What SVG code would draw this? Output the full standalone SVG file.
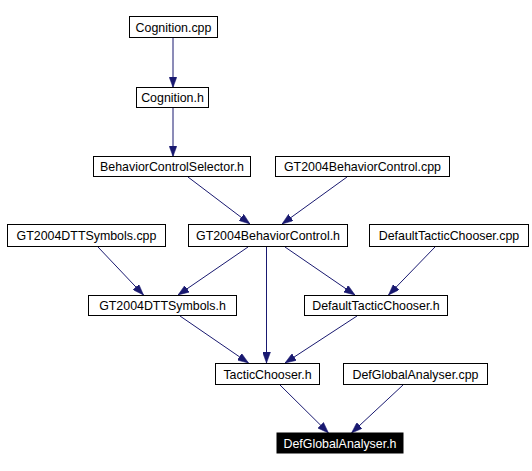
<svg xmlns="http://www.w3.org/2000/svg" width="532" height="471" viewBox="0 0 532 471">
<style>
.n rect{fill:#fff;stroke:#000;stroke-width:1}
.n text{font-family:"Liberation Sans",Arial,sans-serif;font-size:12.4px;text-anchor:middle;fill:#000}
#n_DefGlobalAnalyser_h rect{fill:#000}
#n_DefGlobalAnalyser_h text{fill:#fff}
.e line{stroke:#191970;stroke-width:1;fill:none;marker-end:url(#ah)}
</style>
<defs>
<marker id="ah" markerUnits="userSpaceOnUse" markerWidth="11" markerHeight="8" refX="11" refY="4" orient="auto">
<path d="M0,0 L11,4 L0,8 z" fill="#191970" stroke="#191970" stroke-width="0.5"/>
</marker>
</defs>
<rect width="532" height="471" fill="#fff"/>
<g id="edges" class="e">
<line x1="173" y1="38" x2="173" y2="87.5"/>
<line x1="173" y1="108" x2="173" y2="156.5"/>
<line x1="188" y1="177" x2="250" y2="224"/>
<line x1="347" y1="177" x2="282" y2="224"/>
<line x1="98" y1="247" x2="143.5" y2="295"/>
<line x1="248" y1="247" x2="178" y2="295"/>
<line x1="285" y1="247" x2="355" y2="295"/>
<line x1="435" y1="247" x2="388.5" y2="295"/>
<line x1="266.5" y1="247" x2="266.5" y2="363"/>
<line x1="180" y1="316" x2="248.5" y2="363"/>
<line x1="357" y1="316" x2="285" y2="363"/>
<line x1="280" y1="385" x2="328.5" y2="433"/>
<line x1="403" y1="385" x2="351.5" y2="433"/>
</g>
<g id="n_Cognition_cpp" class="n"><rect x="129.5" y="16.5" width="88" height="21"/><text x="173.5" y="31.5">Cognition.cpp</text></g>
<g id="n_Cognition_h" class="n"><rect x="136.5" y="87.5" width="72" height="20"/><text x="172.5" y="102">Cognition.h</text></g>
<g id="n_BehaviorControlSelector_h" class="n"><rect x="93.5" y="156.5" width="157" height="20"/><text x="172" y="171">BehaviorControlSelector.h</text></g>
<g id="n_GT2004BehaviorControl_cpp" class="n"><rect x="275.5" y="156.5" width="174" height="20"/><text x="362.5" y="171">GT2004BehaviorControl.cpp</text></g>
<g id="n_GT2004DTTSymbols_cpp" class="n"><rect x="7.5" y="224.5" width="158" height="22"/><text x="86.5" y="240">GT2004DTTSymbols.cpp</text></g>
<g id="n_GT2004BehaviorControl_h" class="n"><rect x="188.5" y="224.5" width="159" height="22"/><text x="268" y="240">GT2004BehaviorControl.h</text></g>
<g id="n_DefaultTacticChooser_cpp" class="n"><rect x="369.5" y="224.5" width="159" height="22"/><text x="449" y="240">DefaultTacticChooser.cpp</text></g>
<g id="n_GT2004DTTSymbols_h" class="n"><rect x="88.5" y="295.5" width="148" height="20"/><text x="162.5" y="310">GT2004DTTSymbols.h</text></g>
<g id="n_DefaultTacticChooser_h" class="n"><rect x="304.5" y="295.5" width="143" height="20"/><text x="376" y="310">DefaultTacticChooser.h</text></g>
<g id="n_TacticChooser_h" class="n"><rect x="215.5" y="363.5" width="104" height="21"/><text x="267.5" y="378.5">TacticChooser.h</text></g>
<g id="n_DefGlobalAnalyser_cpp" class="n"><rect x="343.5" y="363.5" width="144" height="21"/><text x="415.5" y="378.5">DefGlobalAnalyser.cpp</text></g>
<g id="n_DefGlobalAnalyser_h" class="n"><rect x="277" y="433" width="126" height="20"/><text x="340" y="447.5">DefGlobalAnalyser.h</text></g>
</svg>
